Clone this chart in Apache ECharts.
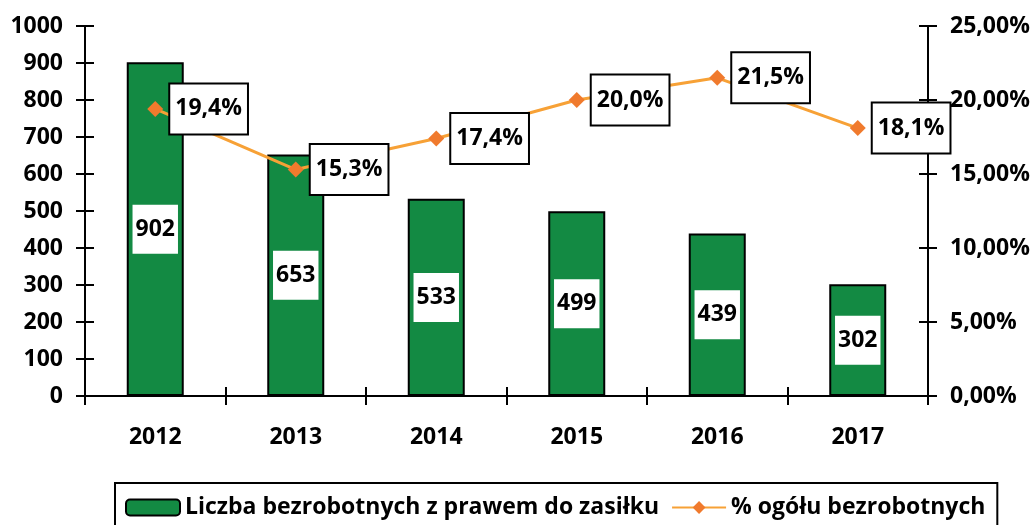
<!DOCTYPE html>
<html>
<head>
<meta charset="utf-8">
<script src="https://cdn.jsdelivr.net/npm/echarts@6/dist/echarts.min.js"></script>
<style>
html,body{margin:0;padding:0;background:#fff;}
#chart{width:1034px;height:525px;}
</style>
</head>
<body>
<div id="chart"></div>
<script>
var years=['2012','2013','2014','2015','2016','2017'];
var liczba=[902,653,533,499,439,302];
var procent=[19.4,15.3,17.4,20.0,21.5,18.1];

var FONT='Open Sans';
var FS=23;
var chart=echarts.init(document.getElementById('chart'));

function pctAxis(v){
	return v.toFixed(2).replace('.',',')+'%';
}
var tickStyle={color:'#000',width:2};

var option={
	animation:false,
	textStyle:{fontFamily:FONT,fontWeight:'bold',color:'#000'},
	grid:{left:85,right:106,top:26,bottom:129},
	legend:{
		top:483,
		left:115,
		padding:[13,12,20,10],
		borderColor:'#000',
		borderWidth:2,
		itemWidth:54,
		itemHeight:16,
		itemGap:12,
		textStyle:{fontFamily:FONT,fontWeight:'bold',fontSize:FS,color:'#000'},
		data:['Liczba bezrobotnych z prawem do zasiłku','% ogółu bezrobotnych']
	},
	xAxis:[{
		type:'category',
		data:years,
		boundaryGap:true,
		axisLine:{lineStyle:{color:'#000',width:2}},
		axisTick:{show:true,length:9,lineStyle:tickStyle},
		axisLabel:{margin:30,fontSize:FS,fontWeight:'bold',color:'#000',fontFamily:FONT}
	},{
		type:'category',
		data:years,
		position:'bottom',
		boundaryGap:true,
		axisLine:{show:false},
		axisTick:{show:true,inside:true,length:9,lineStyle:tickStyle},
		axisLabel:{show:false}
	}],
	yAxis:[{
		type:'value',
		min:0,max:1000,interval:100,
		position:'left',
		splitLine:{show:false},
		axisLine:{show:true,lineStyle:{color:'#000',width:2}},
		axisTick:{show:true,length:9,lineStyle:tickStyle},
		axisLabel:{margin:22,fontSize:FS,fontWeight:'bold',color:'#000',fontFamily:FONT,formatter:function(v){return String(v);}}
	},{
		type:'value',
		min:0,max:25,interval:5,
		position:'right',
		splitLine:{show:false},
		axisLine:{show:true,lineStyle:{color:'#000',width:2}},
		axisTick:{show:true,length:9,lineStyle:tickStyle},
		axisLabel:{margin:22,fontSize:FS,fontWeight:'bold',color:'#000',fontFamily:FONT,formatter:pctAxis}
	},{
		type:'value',
		min:0,max:1000,interval:100,
		position:'left',
		splitLine:{show:false},
		axisLine:{show:false},
		axisTick:{show:true,inside:true,length:9,lineStyle:tickStyle},
		axisLabel:{show:false}
	},{
		type:'value',
		min:0,max:25,interval:5,
		position:'right',
		splitLine:{show:false},
		axisLine:{show:false},
		axisTick:{show:true,inside:true,length:9,lineStyle:tickStyle},
		axisLabel:{show:false}
	}],
	series:[{
		name:'Liczba bezrobotnych z prawem do zasiłku',
		type:'bar',
		data:liczba,
		barWidth:57,
		itemStyle:{color:'#138A43',borderColor:'#000',borderWidth:2},
		label:{
			show:true,
			position:'inside',
			fontFamily:FONT,fontWeight:'bold',fontSize:FS,color:'#000',
			backgroundColor:'#fff',
			padding:[13,3,13,3]
		}
	},{
		name:'% ogółu bezrobotnych',
		type:'line',
		yAxisIndex:1,
		data:procent,
		symbol:'diamond',
		symbolSize:16,
		lineStyle:{color:'#F7A136',width:3},
		itemStyle:{color:'#F07A2D'},
		label:{
			show:true,
			position:'right',
			distance:7,
			fontFamily:FONT,fontWeight:'bold',fontSize:FS,color:'#000',
			backgroundColor:'#fff',
			borderColor:'#000',
			borderWidth:2,
			padding:[13,5,13,5],
			formatter:function(p){return p.value.toFixed(1).replace('.',',')+'%';}
		},
		z:5
	}]
};
chart.setOption(option);
</script>
</body>
</html>
